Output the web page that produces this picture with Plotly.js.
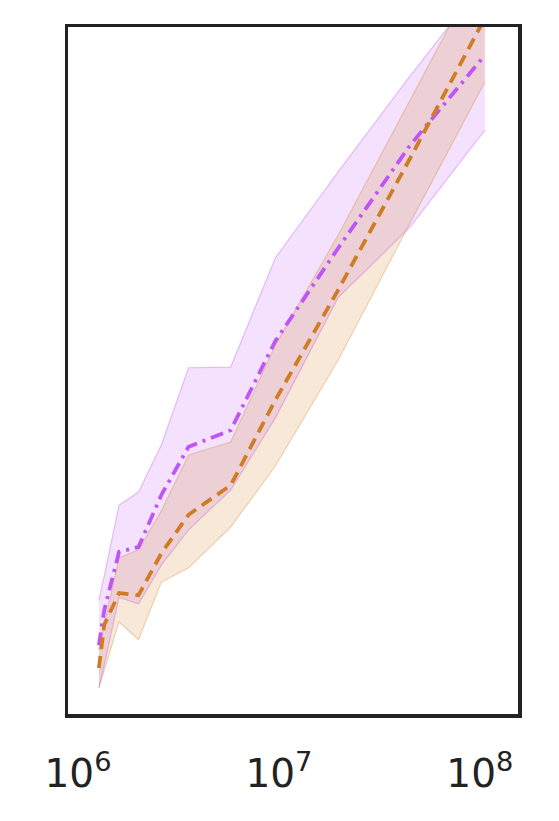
<!DOCTYPE html>
<html>
<head>
<meta charset="utf-8">
<script src="https://cdn.plot.ly/plotly-3.0.1.min.js"></script>
<style>html,body{margin:0;padding:0;background:#fff;}#chart{width:559px;height:821px;}</style>
</head>
<body>
<div id="chart"></div>
<script>
// x values (log scale)
const xVals = [1.27e6, 1.35e6, 1.6e6, 2.0e6, 2.6e6, 3.55e6, 5.75e6, 9.6e6, 1.97e7, 4.5e7, 1.06e8];

// purple series (dash-dot) with band
const purpleMean  = [10.0, 15.1, 23.6, 24.3, 31.9, 38.9, 41.3, 54.3, 67.8, 82.8, 95.9];
const purpleUpper = [16.6, 20.1, 30.4, 32.3, 39.2, 50.4, 50.5, 66.4, 78.9, 92.9, 106.8];
const purpleLower = [3.8, 7.1, 17.0, 16.0, 21.7, 26.8, 32.6, 43.1, 60.6, 70.9, 85.0];

// orange series (dashed) with band
const orangeMean  = [6.7, 13.0, 17.6, 17.3, 23.4, 29.0, 33.3, 45.7, 61.7, 80.9, 101.3];
const orangeUpper = [9.3, 13.0, 22.7, 23.9, 29.6, 37.7, 39.6, 53.7, 69.7, 89.4, 109.8];
const orangeLower = [3.8, 6.3, 13.4, 10.8, 19.2, 21.3, 27.2, 36.1, 51.5, 71.5, 92.0];

const xTickVals = [1e6, 1e7, 1e8];
const xTickText = ['10<sup>6</sup>', '10<sup>7</sup>', '10<sup>8</sup>'];

const purple = '#bf55f7';
const orange = '#d07c25';

const traces = [
  {x: xVals, y: purpleLower, mode: 'lines', line: {color: 'rgba(191,90,242,0.35)', width: 1.2}, hoverinfo: 'skip', showlegend: false},
  {x: xVals, y: purpleUpper, mode: 'lines', fill: 'tonexty', fillcolor: 'rgba(191,90,242,0.18)', line: {color: 'rgba(191,90,242,0.35)', width: 1.2}, hoverinfo: 'skip', showlegend: false},
  {x: xVals, y: orangeLower, mode: 'lines', line: {color: 'rgba(210,125,40,0.3)', width: 1.2}, hoverinfo: 'skip', showlegend: false},
  {x: xVals, y: orangeUpper, mode: 'lines', fill: 'tonexty', fillcolor: 'rgba(210,125,40,0.18)', line: {color: 'rgba(210,125,40,0.3)', width: 1.2}, hoverinfo: 'skip', showlegend: false},
  {x: xVals, y: purpleMean, mode: 'lines', line: {color: purple, width: 3.8, dash: '13px,6px,3px,6px'}, showlegend: false},
  {x: xVals, y: orangeMean, mode: 'lines', line: {color: orange, width: 3.8, dash: '12px,7px'}, showlegend: false}
];

const layout = {
  width: 559, height: 821,
  margin: {l: 68, r: 41, t: 27, b: 107},
  paper_bgcolor: '#fff', plot_bgcolor: '#fff',
  showlegend: false,
  xaxis: {
    type: 'log', range: [5.95, 8.19],
    tickvals: xTickVals, ticktext: xTickText,
    ticks: '', showgrid: false, zeroline: false,
    showline: true, mirror: true, linewidth: 3.5, linecolor: '#222',
    tickfont: {family: 'DejaVu Sans', size: 39, color: '#222'},
    ticklabelstandoff: 23
  },
  yaxis: {
    range: [0, 100],
    showticklabels: false, ticks: '', showgrid: false, zeroline: false,
    showline: true, mirror: true, linewidth: 3.5, linecolor: '#222'
  }
};

Plotly.newPlot('chart', traces, layout, {displayModeBar: false, staticPlot: true});
</script>
</body>
</html>
